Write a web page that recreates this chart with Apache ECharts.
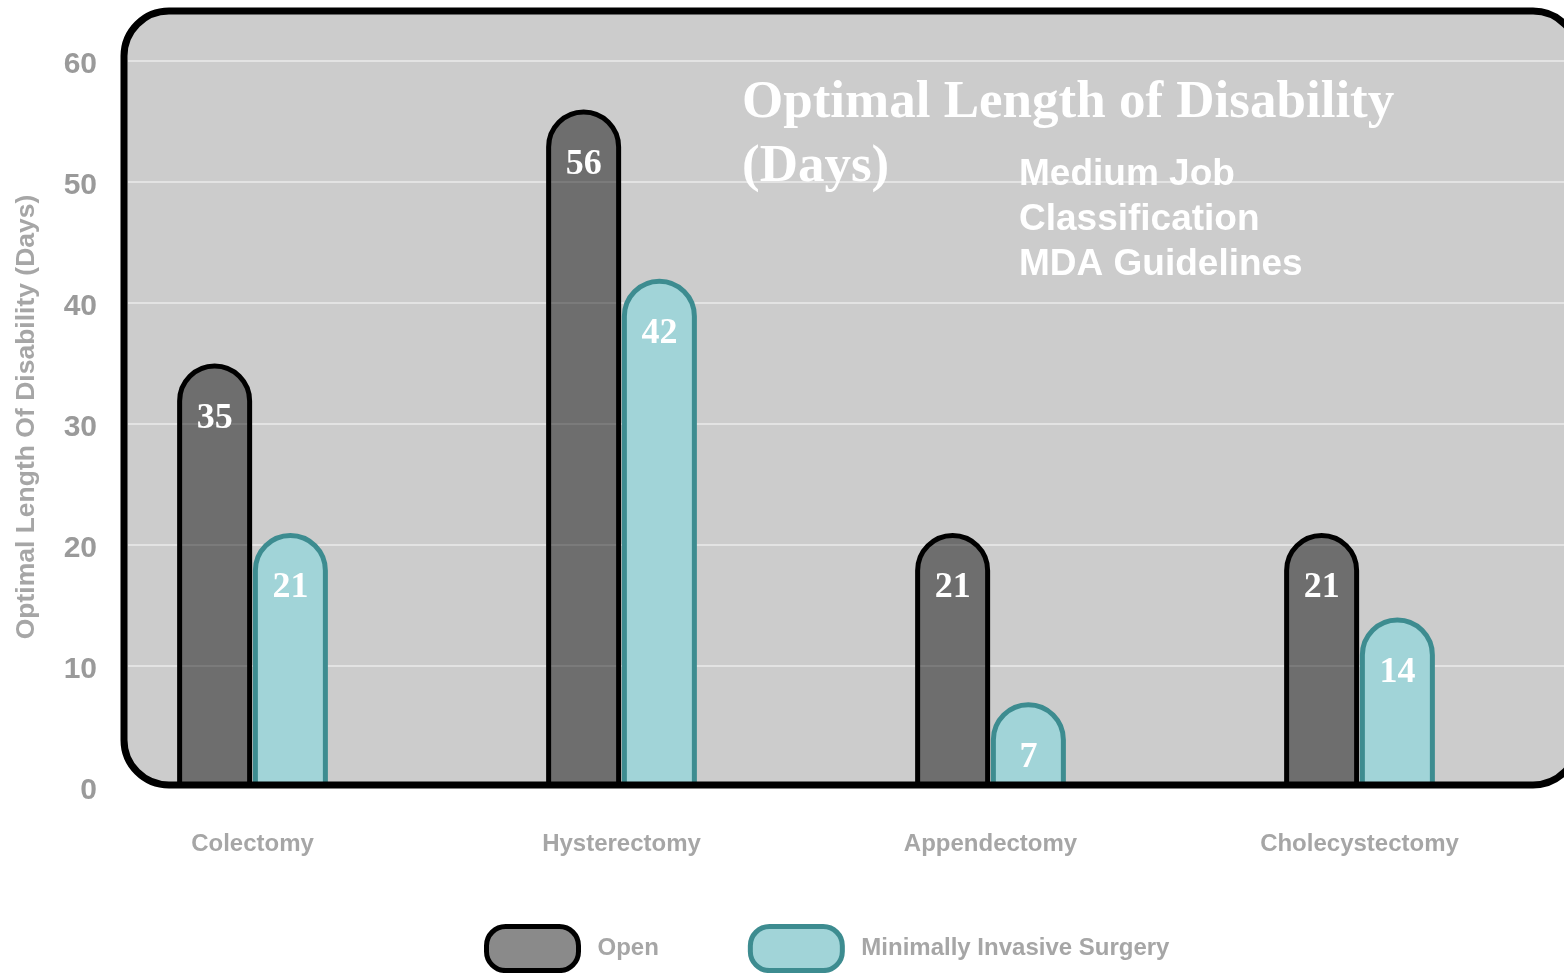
<!DOCTYPE html>
<html>
<head>
<meta charset="utf-8">
<title>Optimal Length of Disability</title>
<script src="https://cdn.jsdelivr.net/npm/echarts@6/dist/echarts.min.js"></script>
<style>
  html, body { margin: 0; padding: 0; background: #ffffff; }
  #chart { width: 1564px; height: 973px; }
</style>
</head>
<body>
<div id="chart"></div>
<script>
// Procedures and recommended days off work (MDA guidelines, medium job class)
const categories = ['Colectomy', 'Hysterectomy', 'Appendectomy', 'Cholecystectomy'];
const openDays = [35, 56, 21, 21];
const misDays = [21, 42, 7, 14];
const yMin = 0;
const yMax = 60;
const yStep = 10;

const chart = echarts.init(document.getElementById('chart'), null, { renderer: 'canvas' });

const grayText = '#a6a6a6';
const pill = 'path://M20,0 H76 A20,20 0 0 1 96,20 V26 A20,20 0 0 1 76,46 H20 A20,20 0 0 1 0,26 V20 A20,20 0 0 1 20,0 Z';

const valueLabel = {
  show: true,
  position: 'insideTop',
  distance: 37,
  color: '#ffffff',
  fontFamily: 'Liberation Serif',
  fontWeight: 'bold',
  fontSize: 36,
  formatter: '{c}'
};

chart.setOption({
  animation: false,
  backgroundColor: '#ffffff',
  title: [
    {
      text: 'Optimal Length of Disability\n(Days)',
      left: 742,
      top: 71,
      padding: 0,
      textStyle: {
        color: '#ffffff',
        fontFamily: 'Liberation Serif',
        fontWeight: 'bold',
        fontSize: 53,
        lineHeight: 64
      }
    },
    {
      text: 'Medium Job\nClassification\nMDA Guidelines',
      left: 1019,
      top: 152,
      padding: 0,
      textStyle: {
        color: '#ffffff',
        fontFamily: 'Liberation Sans',
        fontWeight: 'bold',
        fontSize: 37,
        lineHeight: 45
      }
    }
  ],
  graphic: [
    {
      type: 'rect',
      z: -100,
      silent: true,
      shape: { x: 124, y: 11, width: 1454, height: 774, r: 45 },
      style: { fill: '#cccccc', stroke: null }
    },
    {
      type: 'rect',
      z: 100,
      silent: true,
      shape: { x: 124, y: 11, width: 1454, height: 774, r: 45 },
      style: { fill: null, stroke: '#000000', lineWidth: 7 }
    }
  ],
  legend: {
    left: 484,
    top: 924,
    padding: 0,
    itemWidth: 92,
    itemHeight: 46,
    itemGap: 89,
    icon: pill,
    itemStyle: { borderWidth: 5 },
    textStyle: {
      color: grayText,
      fontFamily: 'Liberation Sans',
      fontWeight: 'bold',
      fontSize: 24,
      padding: [0, 0, 0, 14]
    },
    data: ['Open', 'Minimally Invasive Surgery']
  },
  grid: [
    { left: 68, right: 20, top: 61, bottom: 186 },
    { left: 128, right: 0, top: 61, bottom: 186 }
  ],
  xAxis: [
    {
      gridIndex: 0,
      type: 'category',
      data: categories,
      axisLine: { show: false },
      axisTick: { show: false },
      axisLabel: {
        margin: 45,
        color: grayText,
        fontFamily: 'Liberation Sans',
        fontWeight: 'bold',
        fontSize: 24
      }
    },
    {
      gridIndex: 1,
      type: 'value',
      show: false
    }
  ],
  yAxis: [
    {
      gridIndex: 0,
      type: 'value',
      min: yMin,
      max: yMax,
      interval: yStep,
      show: false
    },
    {
      gridIndex: 1,
      type: 'value',
      min: yMin,
      max: yMax,
      interval: yStep,
      name: 'Optimal Length Of Disability (Days)',
      nameLocation: 'middle',
      nameGap: 88,
      nameTextStyle: {
        color: grayText,
        fontFamily: 'Liberation Sans',
        fontWeight: 'bold',
        fontSize: 26.5,
        padding: [0, 0, 0, 14]
      },
      axisLine: { show: false },
      axisTick: { show: false },
      axisLabel: {
        margin: 31,
        formatter: function (v) { return '{v|' + v + '}'; },
        rich: {
          v: {
            padding: [8, 0, 0, 0],
            color: '#9a9a9a',
            fontFamily: 'Liberation Sans',
            fontWeight: 'bold',
            fontSize: 30
          }
        }
      },
      splitLine: {
        showMinLine: false,
        lineStyle: { color: '#e3e3e3', width: 2 }
      }
    }
  ],
  series: [
    {
      name: 'Open',
      type: 'bar',
      xAxisIndex: 0,
      yAxisIndex: 0,
      data: openDays,
      barWidth: 75,
      barGap: '1%',
      itemStyle: {
        color: 'rgba(0,0,0,0.46)',
        borderColor: '#000000',
        borderWidth: 5,
        borderRadius: [37, 37, 0, 0]
      },
      label: valueLabel
    },
    {
      name: 'Minimally Invasive Surgery',
      type: 'bar',
      xAxisIndex: 0,
      yAxisIndex: 0,
      data: misDays,
      barWidth: 75,
      itemStyle: {
        color: '#a1d4d8',
        borderColor: '#3d8c90',
        borderWidth: 5,
        borderRadius: [37, 37, 0, 0]
      },
      label: valueLabel
    }
  ]
});
</script>
</body>
</html>
